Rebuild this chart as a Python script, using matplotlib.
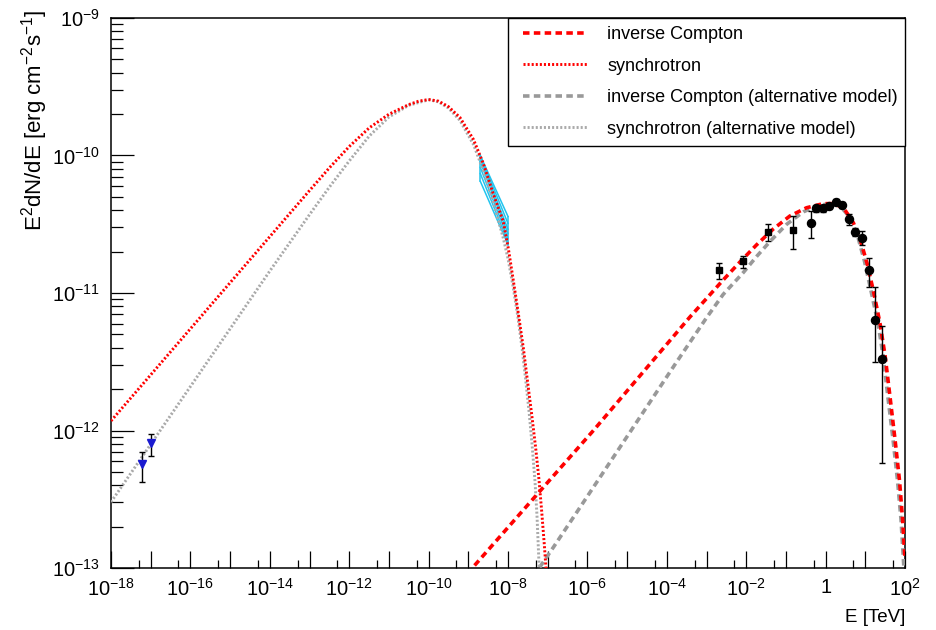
import numpy as np
import matplotlib
matplotlib.use('Agg')
import matplotlib.pyplot as plt
from matplotlib.patches import Rectangle
from matplotlib.ticker import FixedLocator, FuncFormatter, NullFormatter

plt.rcParams['font.family'] = ['Liberation Sans', 'DejaVu Sans']
plt.rcParams['mathtext.fontset'] = 'custom'
plt.rcParams['mathtext.rm'] = 'Liberation Sans'
plt.rcParams['mathtext.it'] = 'Liberation Sans:italic'
plt.rcParams['mathtext.default'] = 'regular'

# model curves: log10(E/TeV) and log10(E^2 dN/dE / erg cm^-2 s^-1)
sync_logE = [-18.0, -16.0, -14.0, -13.0, -12.5, -12.0, -11.5, -11.0, -10.5, -10.25, -10.0, -9.75, -9.5,
             -9.21, -8.87, -8.62, -8.37, -8.12, -7.99, -7.866, -7.74, -7.614, -7.514, -7.403, -7.302,
             -7.219, -7.151, -7.086, -7.043, -7.0]
sync_logF = [-11.93, -11.26, -10.59, -10.255, -10.09, -9.935, -9.80, -9.70, -9.63, -9.605, -9.593, -9.605,
             -9.645, -9.724, -9.884, -10.06, -10.28, -10.48, -10.68, -10.91, -11.15, -11.40, -11.63, -11.885,
             -12.13, -12.36, -12.59, -12.83, -13.0, -13.17]

sync_alt_logE = [-18.0, -16.0, -14.0, -13.0, -12.5, -12.0, -11.5, -11.0, -10.5, -10.0, -9.75, -9.5, -9.21,
                 -8.87, -8.62, -8.37, -8.12, -8.0, -7.874, -7.748, -7.647, -7.559, -7.471, -7.395, -7.320,
                 -7.270, -7.232, -7.2]
sync_alt_logF = [-12.52, -11.68, -10.84, -10.43, -10.23, -10.04, -9.86, -9.72, -9.635, -9.595, -9.61, -9.655,
                 -9.745, -9.92, -10.11, -10.34, -10.60, -10.75, -10.95, -11.18, -11.40, -11.62, -11.86, -12.10,
                 -12.37, -12.62, -12.88, -13.1]

ic_logE = [-9.2, -8.87, -7.53, -5.85, -4.17, -3.42, -3.00, -2.58, -2.16, -1.74, -1.32, -0.90,
           -0.48, -0.06, 0.19, 0.45, 0.70, 0.87, 1.04, 1.20, 1.37, 1.50, 1.62, 1.75, 1.86, 1.94, 2.0]
ic_logF = [-13.1, -12.99, -12.55, -12.00, -11.43, -11.175, -11.04, -10.905, -10.775, -10.65, -10.535, -10.44,
           -10.38, -10.35, -10.35, -10.38, -10.49, -10.61, -10.78, -10.98, -11.22, -11.46, -11.75, -12.07,
           -12.36, -12.65, -12.94]

ic_alt_logE = [-7.35, -7.24, -6.86, -6.27, -5.43, -4.59, -3.75, -3.00, -2.58, -2.07, -1.74, -1.40,
               -0.98, -0.56, -0.22, 0.11, 0.36, 0.64, 0.82, 0.98, 1.14, 1.32, 1.45, 1.57, 1.70,
               1.81, 1.90, 1.96, 1.99]
ic_alt_logF = [-13.06, -13.01, -12.85, -12.595, -12.23, -11.865, -11.50, -11.18, -11.01, -10.85, -10.735,
               -10.625, -10.50, -10.41, -10.365, -10.35, -10.365, -10.46, -10.60, -10.77, -10.98, -11.22,
               -11.46, -11.76, -12.07, -12.36, -12.65, -12.94, -13.09]

# X-ray butterfly (2-10 keV)
xray_E = [2e-9, 1e-8]
xray_lines = [(1.0e-10, 3.6e-11), (1.0e-10, 3.2e-11), (9.6e-11, 2.9e-11), (9.0e-11, 2.7e-11),
              (8.2e-11, 2.5e-11), (7.4e-11, 2.35e-11), (6.5e-11, 2.25e-11)]

# radio points
radio_E = [5.9e-18, 1.0e-17]
radio_F = [5.69e-13, 8.09e-13]
radio_hi = [6.96e-13, 9.41e-13]
radio_lo = [4.21e-13, 6.54e-13]

# gamma-ray points (squares)
sq_E = [2.07e-3, 8.45e-3, 3.6e-2, 0.153]
sq_F = [1.46e-11, 1.72e-11, 2.79e-11, 2.89e-11]
sq_hi = [1.66e-11, 1.87e-11, 3.18e-11, 3.65e-11]
sq_lo = [1.27e-11, 1.52e-11, 2.37e-11, 2.10e-11]

# gamma-ray points (circles)
ci_E = [0.42, 0.58, 0.85, 1.20, 1.80, 2.64, 3.88, 5.6, 8.4, 12.4, 17.5, 25.9]
ci_F = [3.25e-11, 4.16e-11, 4.16e-11, 4.32e-11, 4.62e-11, 4.39e-11, 3.46e-11, 2.76e-11,
        2.50e-11, 1.48e-11, 6.39e-12, 3.33e-12]
ci_hi = [3.97e-11, 4.39e-11, 4.39e-11, 4.55e-11, 4.86e-11, 4.62e-11, 3.78e-11, 2.96e-11,
         2.81e-11, 1.80e-11, 1.11e-11, 5.71e-12]
ci_lo = [2.51e-11, 3.89e-11, 3.89e-11, 4.10e-11, 4.39e-11, 4.16e-11, 3.14e-11, 2.58e-11,
         2.22e-11, 1.11e-11, 3.15e-12, 5.85e-13]

red = '#ff0000'
grey = '#999999'
grey_dot = '#aaaaaa'
cyan = '#22c4ee'


def pw(v):
    return np.power(10.0, np.array(v))


def yerr(f, lo, hi):
    f = np.array(f)
    return [f - np.array(lo), np.array(hi) - f]


fig = plt.figure(figsize=(9.36, 6.3), dpi=100)
ax = fig.add_axes([0.1186, 0.0983, 0.8483, 0.8732])

# butterfly
for fl, fr in xray_lines:
    ax.plot(xray_E, [fl, fr], color=cyan, lw=1.1, zorder=2)
ax.plot([xray_E[0], xray_E[0]], [xray_lines[-1][0], xray_lines[0][0]], color=cyan, lw=1.1, zorder=2)
ax.plot([xray_E[1], xray_E[1]], [xray_lines[-1][1], xray_lines[0][1]], color=cyan, lw=1.1, zorder=2)

l1, = ax.plot(pw(ic_logE), pw(ic_logF), color=red, lw=2.6, dashes=(1.8, 1.2), zorder=4,
              label='inverse Compton')
l2, = ax.plot(pw(sync_logE), pw(sync_logF), color=red, lw=2.1, dashes=(0.7, 0.7), zorder=4,
              label='synchrotron')
l3, = ax.plot(pw(ic_alt_logE), pw(ic_alt_logF), color=grey, lw=2.6, dashes=(1.8, 1.2), zorder=3,
              label='inverse Compton (alternative model)')
l4, = ax.plot(pw(sync_alt_logE), pw(sync_alt_logF), color=grey_dot, lw=2.1, dashes=(0.7, 0.7), zorder=3,
              label='synchrotron (alternative model)')

ax.errorbar(radio_E, radio_F, yerr=yerr(radio_F, radio_lo, radio_hi), fmt='none', ecolor='black',
            elinewidth=1.0, capsize=2.5, capthick=1.0, zorder=5)
ax.plot(radio_E, radio_F, 'v', color='#1a1ad0', ms=5.5, zorder=6)

ax.errorbar(sq_E, sq_F, yerr=yerr(sq_F, sq_lo, sq_hi), fmt='s', color='black', ms=5,
            elinewidth=1.0, capsize=2.5, capthick=1.0, zorder=6)
ax.errorbar(ci_E, ci_F, yerr=yerr(ci_F, ci_lo, ci_hi), fmt='o', color='black', ms=5.8,
            elinewidth=1.0, capsize=2.5, capthick=1.0, zorder=6)

ax.set_xscale('log')
ax.set_yscale('log')
ax.set_xlim(1e-18, 1e2)
ax.set_ylim(1e-13, 1e-9)

xdec = np.arange(-18, 3)
ax.xaxis.set_major_locator(FixedLocator(10.0 ** xdec))
ax.xaxis.set_minor_locator(FixedLocator(5 * 10.0 ** xdec[:-1]))


def xfmt(v, pos):
    n = int(round(np.log10(v)))
    if n % 2:
        return ''
    if n == 0:
        return '1'
    return '$10^{%d}$' % n


ax.xaxis.set_major_formatter(FuncFormatter(xfmt))
ax.xaxis.set_minor_formatter(NullFormatter())

ydec = np.arange(-13, -8)
ax.yaxis.set_major_locator(FixedLocator(10.0 ** ydec))
ax.yaxis.set_minor_locator(FixedLocator([k * 10.0 ** d for d in ydec[:-1] for k in range(2, 10)]))
ax.yaxis.set_major_formatter(FuncFormatter(lambda v, p: '$10^{%d}$' % int(round(np.log10(v)))))
ax.yaxis.set_minor_formatter(NullFormatter())

ax.tick_params(axis='x', which='major', direction='in', length=12, width=0.9, labelsize=14.5, pad=7)
ax.tick_params(axis='x', which='minor', direction='in', length=6, width=0.9)
ax.tick_params(axis='y', which='major', direction='in', length=16.5, width=0.9, labelsize=14.5, pad=8)
ax.tick_params(axis='y', which='minor', direction='in', length=8.5, width=0.9)
ax.tick_params(top=False, right=False, which='both')
for s in ax.spines.values():
    s.set_linewidth(1.1)

# legend box drawn separately so the entries can sit where they do in the original
ax.add_patch(Rectangle((0.5, 0.7673), 0.5, 0.2327, transform=ax.transAxes, facecolor='white',
                       edgecolor='black', lw=1.0, zorder=8, clip_on=False))
leg = ax.legend(handles=[l1, l2, l3, l4], loc='upper left', bbox_to_anchor=(0.519, 0.985),
                borderaxespad=0.0, borderpad=0.0, fontsize=13, frameon=False,
                handlelength=3.6, handletextpad=1.05, labelspacing=0.8)
leg.set_zorder(9)

fig.text(35 / 936, 1 - 10 / 630, 'E$^{2}$dN/dE [erg cm$^{-2}$s$^{-1}$]', rotation=90,
         ha='center', va='top', fontsize=16)
fig.text(905 / 936, 1 - 622 / 630, 'E [TeV]', ha='right', va='baseline', fontsize=13.5)

fig.savefig('out.png', dpi=100)
